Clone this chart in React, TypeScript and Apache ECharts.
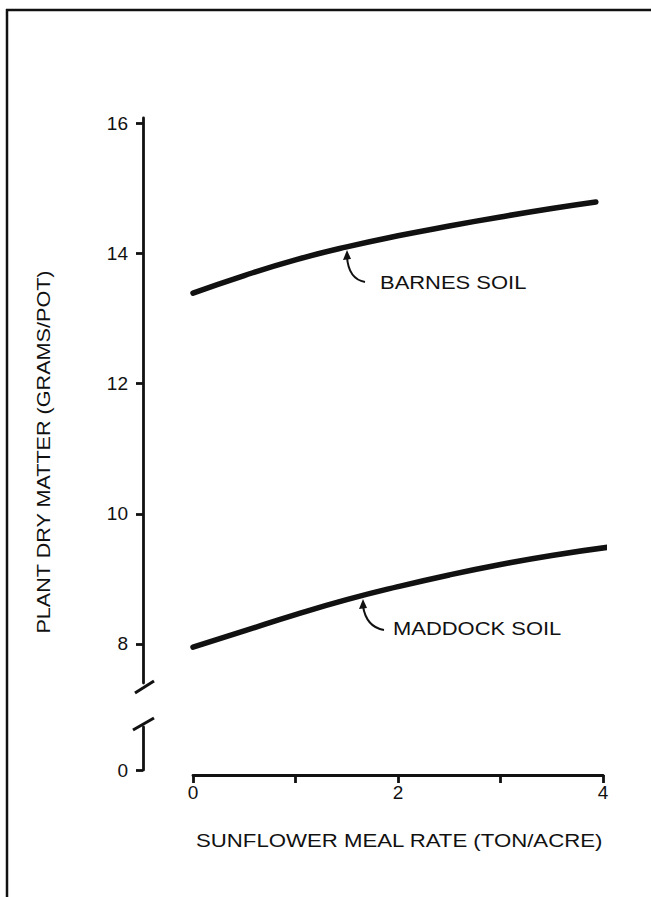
import React, { useEffect, useRef } from "react";
import * as echarts from "echarts";

// Data
const barnesX = [0, 0.5, 1, 1.5, 2, 2.5, 3, 3.5, 3.93];
const barnesY = [13.39, 13.66, 13.9, 14.1, 14.27, 14.42, 14.56, 14.69, 14.79];
const maddockX = [0, 0.5, 1, 1.5, 2, 2.5, 3, 3.5, 4.07];
const maddockY = [7.95, 8.2, 8.45, 8.68, 8.88, 9.06, 9.22, 9.36, 9.49];
const yTicksUpper = [8, 10, 12, 14, 16];
const yTicksLower = [0];
const xLabelValues = [0, 2, 4];
const xTitle = "SUNFLOWER MEAL RATE (TON/ACRE)";
const yTitle = "PLANT DRY MATTER (GRAMS/POT)";
const barnesLabel = "BARNES SOIL";
const maddockLabel = "MADDOCK SOIL";

const FONT = "'Liberation Sans', Arial, sans-serif";
const INK = "#111";

export default function App() {
  const ref = useRef<HTMLDivElement>(null);
  useEffect(() => {
    if (!ref.current) return;
    document.body.style.margin = "0";
    document.body.style.overflow = "hidden";
    const chart = echarts.init(ref.current, null, { renderer: "svg" });
    const pair = (xs: number[], ys: number[]) => xs.map((x, i) => [x, ys[i]]);
    const axisLineStyle = { color: INK, width: 2.8 };
    const labelStyle = { color: INK, fontSize: 19, fontFamily: FONT };
    chart.setOption({
      animation: false,
      backgroundColor: "#fff",
      grid: [
        { left: 193, right: 48, top: 118, height: 565 },
        { left: 193, right: 48, top: 727, height: 43 },
      ],
      xAxis: [
        { gridIndex: 0, type: "value", min: 0, max: 4, show: false },
        {
          gridIndex: 1,
          type: "value",
          min: 0,
          max: 4,
          interval: 1,
          position: "bottom",
          offset: 5,
          axisLine: { show: true, onZero: false, lineStyle: axisLineStyle },
          axisTick: { show: true, length: 8, lineStyle: axisLineStyle },
          splitLine: { show: false },
          axisLabel: {
            ...labelStyle,
            margin: 8,
            customValues: xLabelValues,
          },
        },
      ],
      yAxis: [
        {
          gridIndex: 0,
          type: "value",
          min: 7.4,
          max: 16.08,
          offset: 50,
          axisLine: { show: true, onZero: false, lineStyle: axisLineStyle },
          axisTick: { show: true, length: 7, lineStyle: axisLineStyle, customValues: yTicksUpper },
          splitLine: { show: false },
          axisLabel: { ...labelStyle, margin: 15, customValues: yTicksUpper },
        },
        {
          gridIndex: 1,
          type: "value",
          min: 0,
          max: 0.66,
          offset: 50,
          axisLine: { show: true, onZero: false, lineStyle: axisLineStyle },
          axisTick: { show: true, length: 7, lineStyle: axisLineStyle, customValues: yTicksLower },
          splitLine: { show: false },
          axisLabel: { ...labelStyle, margin: 15, customValues: yTicksLower },
        },
      ],
      series: [
        {
          name: barnesLabel,
          type: "line",
          xAxisIndex: 0,
          yAxisIndex: 0,
          data: pair(barnesX, barnesY),
          smooth: true,
          showSymbol: false,
          clip: false,
          lineStyle: { color: INK, width: 5.5, cap: "round" },
        },
        {
          name: maddockLabel,
          type: "line",
          xAxisIndex: 0,
          yAxisIndex: 0,
          data: pair(maddockX, maddockY),
          smooth: true,
          showSymbol: false,
          clip: false,
          lineStyle: { color: INK, width: 5.5, cap: "round" },
        },
      ],
      graphic: [
        // frame
        { type: "line", shape: { x1: 6, y1: 10, x2: 651, y2: 10 }, style: { stroke: INK, lineWidth: 2.5 } },
        { type: "line", shape: { x1: 7, y1: 9, x2: 7, y2: 897 }, style: { stroke: INK, lineWidth: 2.5 } },
        // axis break marks
        { type: "line", shape: { x1: 135, y1: 693, x2: 154, y2: 681 }, style: { stroke: INK, lineWidth: 3 } },
        { type: "line", shape: { x1: 133, y1: 730, x2: 154, y2: 718 }, style: { stroke: INK, lineWidth: 3 } },
        // Barnes arrow
        {
          type: "bezierCurve",
          shape: { x1: 347, y1: 257, cpx1: 348, cpy1: 271, cpx2: 354, cpy2: 280, x2: 365, y2: 282 },
          style: { stroke: INK, lineWidth: 2, fill: null },
        },
        { type: "polygon", shape: { points: [[347, 250], [343, 260], [351, 259]] }, style: { fill: INK } },
        // Maddock arrow
        {
          type: "bezierCurve",
          shape: { x1: 363, y1: 606, cpx1: 365, cpy1: 619, cpx2: 372, cpy2: 628, x2: 384, y2: 630 },
          style: { stroke: INK, lineWidth: 2, fill: null },
        },
        { type: "polygon", shape: { points: [[363, 599], [359, 609], [367, 608]] }, style: { fill: INK } },
        // labels
        {
          type: "text",
          x: 380,
          y: 283,
          scaleX: 1.22,
          style: { text: barnesLabel, fill: INK, font: `18px ${FONT}`, textAlign: "left", textVerticalAlign: "middle" },
        },
        {
          type: "text",
          x: 393,
          y: 629,
          scaleX: 1.22,
          style: { text: maddockLabel, fill: INK, font: `18px ${FONT}`, textAlign: "left", textVerticalAlign: "middle" },
        },
        {
          type: "text",
          x: 196,
          y: 841,
          scaleX: 1.2,
          style: { text: xTitle, fill: INK, font: `18.5px ${FONT}`, textAlign: "left", textVerticalAlign: "middle" },
        },
        {
          type: "text",
          x: 44,
          y: 452,
          rotation: Math.PI / 2,
          scaleX: 1.2,
          style: { text: yTitle, fill: INK, font: `18px ${FONT}`, textAlign: "center", textVerticalAlign: "middle" },
        },
      ],
    });
    return () => chart.dispose();
  }, []);
  return (
    <div
      ref={ref}
      style={{ position: "absolute", left: 0, top: 0, width: 651, height: 897, background: "#fff" }}
    />
  );
}
